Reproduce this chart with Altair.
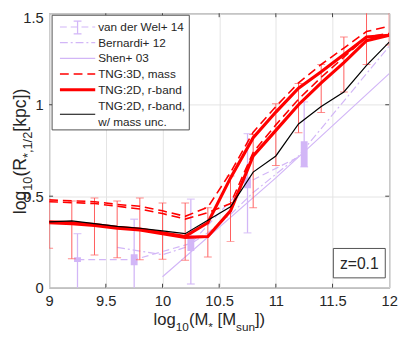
import altair as alt
import pandas as pd

# ---------------- data ----------------
mass = [9.0, 9.2, 9.4, 9.6, 9.8, 10.0, 10.2, 10.4, 10.6, 10.8, 11.0, 11.2, 11.4, 11.6, 11.8, 12.0]
tng2d_r_a = [0.36, 0.355, 0.345, 0.33, 0.32, 0.30, 0.28, 0.355, 0.60, 0.82, 0.96, 1.09, 1.18, 1.275, 1.37, 1.38]
tng2d_r_b = [0.355, 0.35, 0.34, 0.325, 0.315, 0.295, 0.275, 0.28, 0.42, 0.72, 0.86, 1.00, 1.12, 1.23, 1.35, 1.38]
tng3d_mass_a = [0.48, 0.475, 0.47, 0.455, 0.445, 0.42, 0.39, 0.44, 0.63, 0.85, 0.99, 1.12, 1.22, 1.31, 1.40, 1.43]
tng3d_mass_b = [0.47, 0.465, 0.46, 0.445, 0.43, 0.405, 0.375, 0.41, 0.46, 0.74, 0.89, 1.03, 1.15, 1.26, 1.37, 1.39]
tng2d_r_massunc = [0.36, 0.365, 0.35, 0.335, 0.325, 0.31, 0.295, 0.368, 0.442, 0.632, 0.72, 0.895, 0.99, 1.07, 1.215, 1.342]
err_lo = [0.216, 0.158, 0.179, 0.163, 0.153, 0.155, 0.15, 0.168, 0.253, 0.437, 0.668, 0.847, 0.958, 1.07, 1.22, 1.326]
err_hi = [0.474, 0.474, 0.49, 0.474, 0.49, 0.463, 0.463, 0.437, 0.61, 0.837, 1.005, 1.116, 1.22, 1.37, 1.60, 1.60]

vdw_mass = [9.25, 9.75, 10.25, 10.75, 11.25]
vdw_val = [0.153, 0.153, 0.242, 0.574, 0.73]
vdw_err_lo = [-0.1, -0.1, 0.02, 0.30, 0.66]
vdw_err_hi = [0.295, 0.374, 0.484, 0.842, 1.016]
vdw_box_lo = [0.14, 0.123, 0.20, 0.544, 0.66]
vdw_box_hi = [0.166, 0.183, 0.284, 0.604, 0.80]

bernardi_mass = [9.6, 9.8, 10.0, 10.2, 10.4, 10.6, 10.8, 11.0, 11.2, 11.4, 11.6, 11.8, 12.0]
bernardi_val = [0.22, 0.20, 0.18, 0.22, 0.30, 0.40, 0.52, 0.62, 0.72, 0.87, 1.02, 1.17, 1.32]

shen_mass = [10.0, 11.0, 12.0]
shen_val = [0.06, 0.60, 1.17]

x_ticks = [9, 9.5, 10, 10.5, 11, 11.5, 12]
y_ticks = [0, 0.5, 1, 1.5]

legend_labels = ["van der Wel+ 14", "Bernardi+ 12", "Shen+ 03", "TNG:3D, mass",
                 "TNG:2D, r-band", "TNG:2D, r-band,", "w/ mass unc."]
z_label = "z=0.1"

# ---------------- style ----------------
W, H = 347, 280
FONT = "Liberation Sans"
RED = "#ff0000"
LAV = "#d2b6f7"
TXT = "#262626"

xs = alt.Scale(domain=[9, 12], nice=False, zero=False)
ys = alt.Scale(domain=[0, 1.5], nice=False, zero=False)
xaxis = alt.Axis(values=x_ticks, format="~g", title=None)
yaxis = alt.Axis(values=y_ticks, format="~g", title=None,
                 labelOffset=alt.condition("datum.value == 1.5", alt.value(4), alt.value(0)))


def series(xv, yv):
    return pd.DataFrame({"m": xv, "v": yv})


def line(df, color, width, dash=None):
    kw = dict(color=color, strokeWidth=width, clip=True)
    if dash:
        kw["strokeDash"] = dash
    return alt.Chart(df).mark_line(**kw).encode(
        x=alt.X("m:Q", scale=xs, axis=xaxis),
        y=alt.Y("v:Q", scale=ys, axis=yaxis),
    )


layers = []

# inward ticks on all four sides
xt = pd.DataFrame({"m": x_ticks[1:-1]})
yt = pd.DataFrame({"v": y_ticks[1:-1]})
tick_col = "#404040"
layers.append(alt.Chart(xt).mark_rule(color=tick_col).encode(
    x=alt.X("m:Q", scale=xs, axis=xaxis), y=alt.value(H), y2=alt.value(H - 4)))
layers.append(alt.Chart(xt).mark_rule(color=tick_col).encode(
    x=alt.X("m:Q", scale=xs, axis=xaxis), y=alt.value(0), y2=alt.value(4)))
layers.append(alt.Chart(yt).mark_rule(color=tick_col).encode(
    y=alt.Y("v:Q", scale=ys, axis=yaxis), x=alt.value(0), x2=alt.value(4)))
layers.append(alt.Chart(yt).mark_rule(color=tick_col).encode(
    y=alt.Y("v:Q", scale=ys, axis=yaxis), x=alt.value(W), x2=alt.value(W - 4)))

# observational (lavender)
layers.append(line(series(shen_mass, shen_val), LAV, 1.2))
layers.append(line(series(bernardi_mass, bernardi_val), LAV, 1.2, [8, 3, 2, 3]))
layers.append(line(series(vdw_mass, vdw_val), LAV, 1.2, [7, 4]))
vdw = pd.DataFrame({"m": vdw_mass, "lo": vdw_err_lo, "hi": vdw_err_hi,
                    "blo": vdw_box_lo, "bhi": vdw_box_hi})
layers.append(alt.Chart(vdw).mark_rule(color=LAV, strokeWidth=1.3, clip=True).encode(
    x=alt.X("m:Q", scale=xs, axis=xaxis), y=alt.Y("lo:Q", scale=ys, axis=yaxis), y2="hi:Q"))
for f in ["lo", "hi"]:
    layers.append(alt.Chart(vdw).mark_tick(color=LAV, orient="horizontal", size=8,
                                           thickness=1.3, clip=True).encode(
        x=alt.X("m:Q", scale=xs, axis=xaxis), y=alt.Y(f + ":Q", scale=ys, axis=yaxis)))
layers.append(alt.Chart(vdw).mark_rule(color=LAV, strokeWidth=7, strokeCap="butt", clip=True).encode(
    x=alt.X("m:Q", scale=xs, axis=xaxis), y=alt.Y("blo:Q", scale=ys, axis=yaxis), y2="bhi:Q"))

# TNG error bars
eb = pd.DataFrame({"m": mass, "lo": err_lo, "hi": err_hi})
ERR = "#ff5c5c"
layers.append(alt.Chart(eb).mark_rule(color=ERR, strokeWidth=1, clip=True).encode(
    x=alt.X("m:Q", scale=xs, axis=xaxis), y=alt.Y("lo:Q", scale=ys, axis=yaxis), y2="hi:Q"))
for f in ["lo", "hi"]:
    layers.append(alt.Chart(eb).mark_tick(color=ERR, orient="horizontal", size=8,
                                          thickness=1, clip=True).encode(
        x=alt.X("m:Q", scale=xs, axis=xaxis), y=alt.Y(f + ":Q", scale=ys, axis=yaxis)))

# TNG lines
layers.append(line(series(mass, tng3d_mass_a), RED, 1.6, [9, 5]))
layers.append(line(series(mass, tng3d_mass_b), RED, 1.6, [9, 5]))
layers.append(line(series(mass, tng2d_r_a), RED, 3.2))
layers.append(line(series(mass, tng2d_r_b), RED, 3.2))
layers.append(line(series(mass, tng2d_r_massunc), "#000000", 1.2))

# ---------------- legend (inside plot, upper left) ----------------
one = pd.DataFrame({"k": [0]})
LX0, LX1, LY0, LY1 = 3, 143, 2, 119
layers.append(alt.Chart(one).mark_rect(fill="white", stroke="#505050", strokeWidth=1).encode(
    x=alt.value(LX0), x2=alt.value(LX1), y=alt.value(LY0), y2=alt.value(LY1)))
rows = [14, 30, 46, 62, 78, 95, 111]
sample_rows = [14, 30, 46, 62, 78, 103]
sample_styles = [(LAV, 1.2, [7, 4]), (LAV, 1.2, [8, 3, 2, 3]), (LAV, 1.2, None),
                 (RED, 1.6, [9, 5]), (RED, 3.2, None), ("#000000", 1.2, None)]
for yy, (c, w, d) in zip(sample_rows, sample_styles):
    kw = dict(color=c, strokeWidth=w)
    if d:
        kw["strokeDash"] = d
    layers.append(alt.Chart(one).mark_rule(**kw).encode(
        x=alt.value(11), x2=alt.value(47), y=alt.value(yy)))
# small error bar on the van der Wel sample
layers.append(alt.Chart(one).mark_rule(color=LAV, strokeWidth=1.3).encode(
    x=alt.value(29), y=alt.value(8), y2=alt.value(21)))
for yy in [8, 21]:
    layers.append(alt.Chart(one).mark_rule(color=LAV, strokeWidth=1.3).encode(
        x=alt.value(25), x2=alt.value(33), y=alt.value(yy)))
leg = pd.DataFrame({"t": legend_labels, "py": rows})
layers.append(alt.Chart(leg).mark_text(align="left", baseline="middle", font=FONT,
                                       fontSize=12, color=TXT).encode(
    x=alt.value(50), y=alt.Y("py:Q", scale=None), text="t:N"))

# z label box
layers.append(alt.Chart(one).mark_rect(fill="white", stroke="#505050", strokeWidth=1).encode(
    x=alt.value(290), x2=alt.value(343), y=alt.value(H - 40), y2=alt.value(H - 10)))
layers.append(alt.Chart(pd.DataFrame({"t": [z_label]})).mark_text(
    align="center", baseline="middle", font=FONT, fontSize=16, color=TXT).encode(
    x=alt.value(316.5), y=alt.value(H - 24.5), text="t:N"))

# ---------------- axis titles with sub-scripts ----------------
ADV = {"l": 222, "o": 556, "g": 556, "(": 333, ")": 333, "M": 833, "*": 389, " ": 278,
       "[": 278, "]": 278, "s": 500, "u": 556, "n": 556, "R": 722, ",": 278, "/": 278,
       "k": 500, "p": 556, "c": 500}
for d in "0123456789":
    ADV[d] = 556


def tw(s, size):
    return sum(ADV.get(ch, 556) for ch in s) * size / 1000.0


def title_pieces(pieces, main, sub):
    total = sum(tw(t, main if kind == "m" else sub) for t, kind in pieces)
    out, off = [], 0.0
    for t, kind in pieces:
        size = main if kind == "m" else sub
        txt = t.lstrip(" ")
        off_t = off + tw(t[: len(t) - len(txt)], size)
        out.append((txt, kind, size, off_t))
        off += tw(t, size)
    return out, total


xt_pieces, xt_total = title_pieces(
    [("log", "m"), ("10", "s"), ("(M", "m"), ("*", "s"), (" [M", "m"), ("sun", "s"), ("])", "m")], 17, 12)
x_center = 163.5
rows_xt = []
for txt, kind, size, off in xt_pieces:
    rows_xt.append({"t": txt, "px": x_center - xt_total / 2 + off,
                    "py": H + 38 if kind == "m" else H + 44, "fs": size})
layers.append(alt.Chart(pd.DataFrame(rows_xt)).mark_text(
    align="left", baseline="alphabetic", font=FONT, color=TXT).encode(
    x=alt.X("px:Q", scale=None), y=alt.Y("py:Q", scale=None), text="t:N",
    size=alt.Size("fs:Q", scale=None, legend=None)))

yt_pieces, yt_total = title_pieces(
    [("log", "m"), ("10", "s"), ("(R", "m"), ("*,1/2", "s"), ("[kpc])", "m")], 18, 13)
y_center = 141
rows_yt = []
for txt, kind, size, off in yt_pieces:
    rows_yt.append({"t": txt, "py": y_center + yt_total / 2 - off,
                    "px": -24 if kind == "m" else -18, "fs": size})
layers.append(alt.Chart(pd.DataFrame(rows_yt)).mark_text(
    align="left", baseline="alphabetic", font=FONT, color=TXT, angle=270).encode(
    x=alt.X("px:Q", scale=None), y=alt.Y("py:Q", scale=None), text="t:N",
    size=alt.Size("fs:Q", scale=None, legend=None)))

chart = alt.layer(*layers).properties(
    width=W, height=H,
    autosize=alt.AutoSizeParams(type="none"),
    padding={"left": 42, "top": 2, "right": 10, "bottom": 49},
).configure_view(
    stroke="#404040", strokeWidth=1, fill="white"
).configure_axis(
    labelFont=FONT, labelFontSize=15, labelColor=TXT, grid=True, gridColor="#e3e3e3",
    gridWidth=1, domain=False, ticks=False, labelPadding=6,
    labelFlush=False, labelOverlap=False, labelBound=False,
)

chart.save("out.html", embed_options={"renderer": "svg", "actions": False})
